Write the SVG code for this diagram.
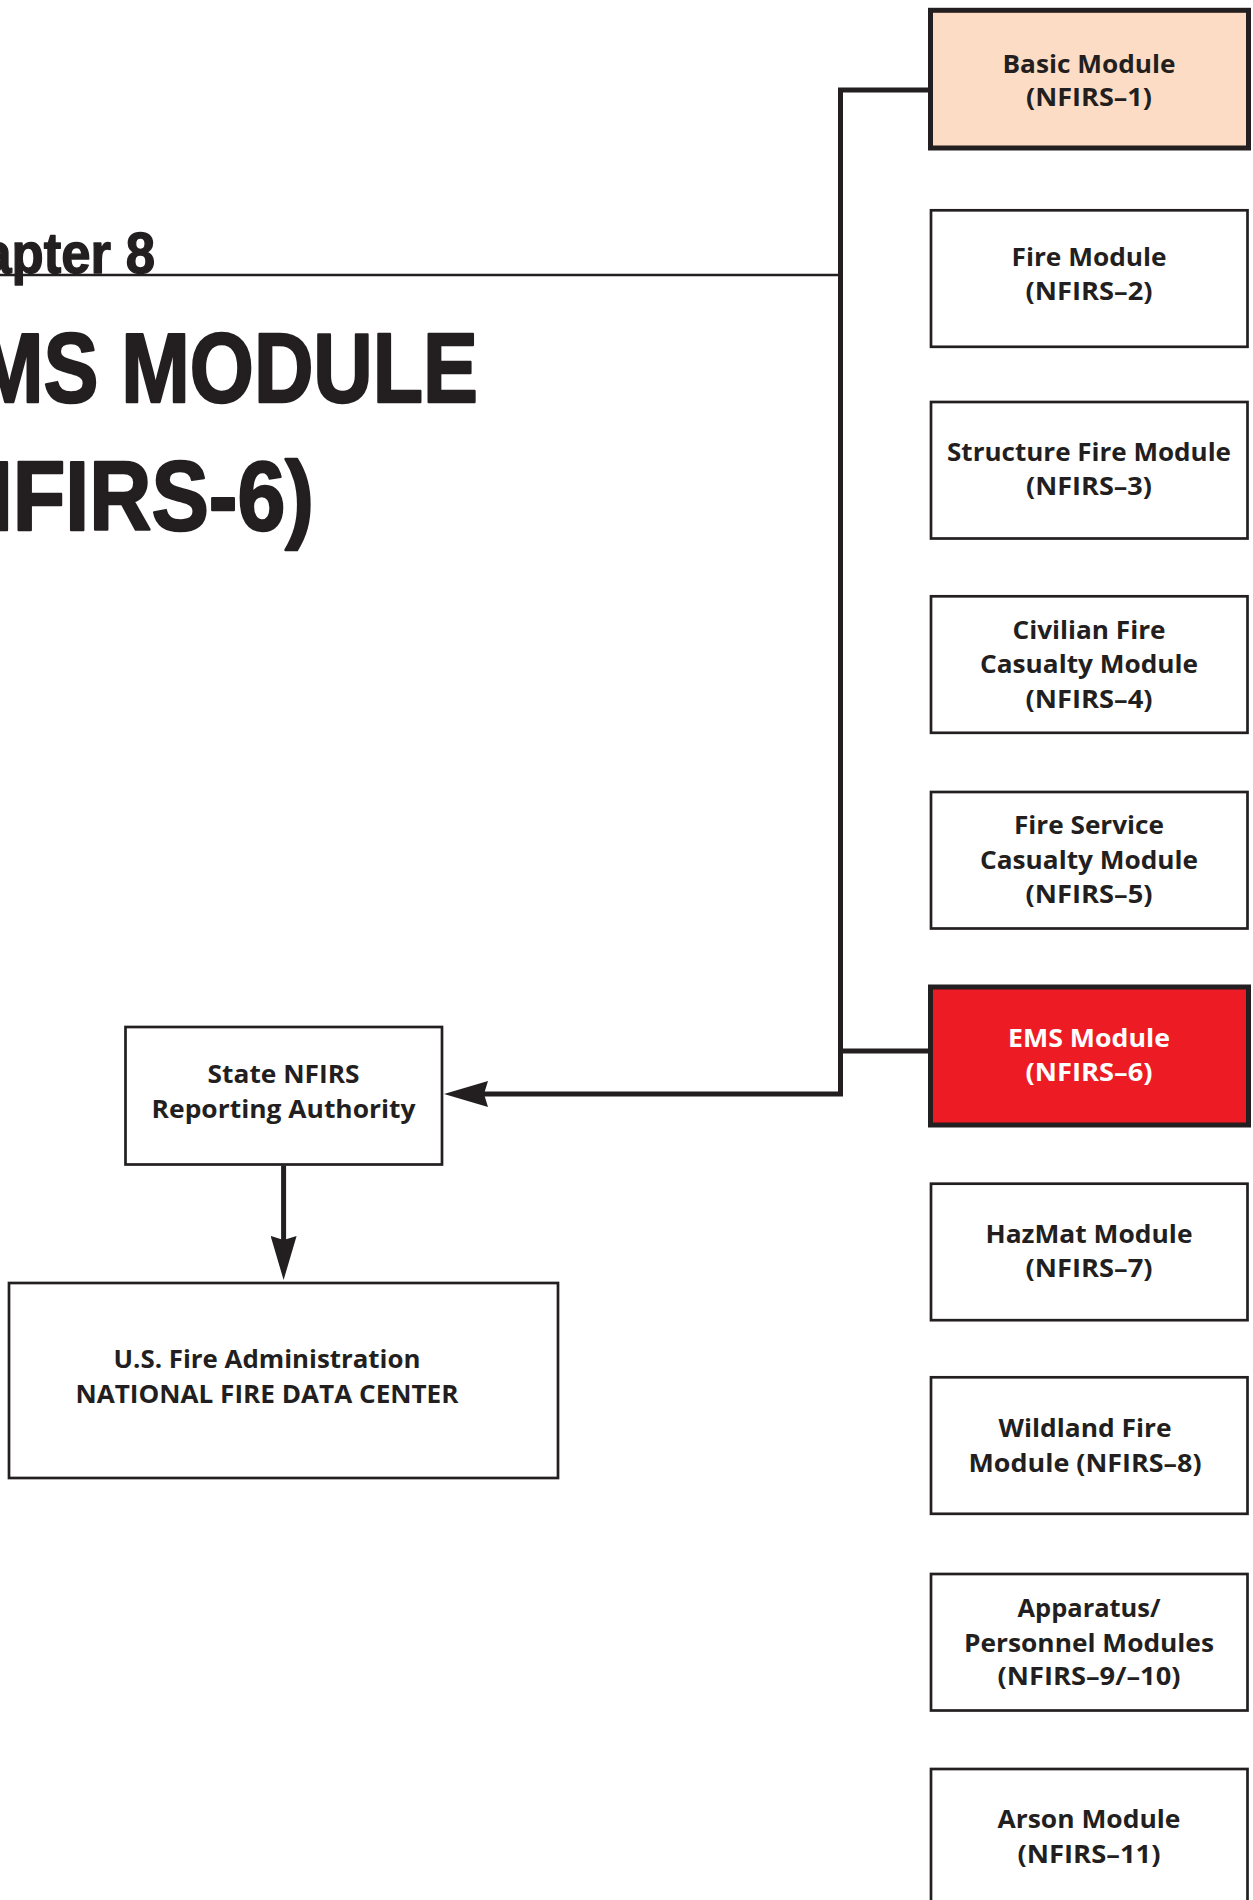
<svg xmlns="http://www.w3.org/2000/svg" width="1253" height="1900" viewBox="0 0 1253 1900">
<style>
.bg{fill:#ffffff}
.box{fill:#ffffff;stroke:#231F20;stroke-width:2.7}
.thick{stroke:#231F20;stroke-width:5}
.basic{fill:#FCDCC4}
.ems{fill:#ED1C24}
.lbl{font-family:"Open Sans",Lato,sans-serif;font-weight:700;font-size:25.5px;fill:#231F20;text-anchor:middle}
.wht{fill:#ffffff}
.title{font-family:"Liberation Sans Narrow","Liberation Sans",Arial,sans-serif;font-weight:700;fill:#231F20;stroke:#231F20;stroke-linejoin:round}
.conn{fill:none;stroke:#231F20;stroke-width:5;stroke-linejoin:miter;stroke-linecap:butt}
.rule{fill:none;stroke:#231F20;stroke-width:2.6}
</style>
<defs>
<marker id="arr" viewBox="0 0 44 26" refX="18" refY="13" markerWidth="44" markerHeight="26" markerUnits="userSpaceOnUse" orient="auto">
<path d="M0,0 L44,13 L0,26 L4,13 Z" fill="#231F20"/>
</marker>
</defs>
<rect class="bg" x="0" y="0" width="1253" height="1900"/>

<g id="title">
<text class="title" x="-88" y="273" font-size="58" stroke-width="1.4" textLength="243" lengthAdjust="spacingAndGlyphs">Chapter 8</text>
<text class="title" x="-80" y="402" font-size="98" stroke-width="2.4" textLength="558" lengthAdjust="spacingAndGlyphs">EMS MODULE</text>
<text class="title" x="-78" y="530" font-size="99" stroke-width="2.4" textLength="392" lengthAdjust="spacingAndGlyphs">(NFIRS-6)</text>
</g>

<g id="connectors">
<path class="rule" d="M0,275 H840.5"/>
<path class="conn" d="M930,90 H840.5 V1094 H470" marker-end="url(#arr)"/>
<path class="conn" d="M840.5,1051 H930"/>
<path class="conn" d="M283.6,1165.5 V1254" marker-end="url(#arr)"/>
</g>

<g id="basic-module">
<rect class="basic thick" x="930.5" y="10.3" width="318" height="137.7"/>
<text class="lbl" x="1089" y="72.7" textLength="173" lengthAdjust="spacingAndGlyphs">Basic Module</text>
<text class="lbl" x="1089" y="106" textLength="126" lengthAdjust="spacingAndGlyphs">(NFIRS–1)</text>
</g>

<g id="fire-module">
<rect class="box" x="931" y="210.3" width="316.5" height="136.5"/>
<text class="lbl" x="1089" y="266" textLength="155" lengthAdjust="spacingAndGlyphs">Fire Module</text>
<text class="lbl" x="1089" y="300" textLength="127" lengthAdjust="spacingAndGlyphs">(NFIRS–2)</text>
</g>

<g id="structure-fire-module">
<rect class="box" x="931" y="402" width="316.5" height="136.5"/>
<text class="lbl" x="1089" y="460.7" textLength="284" lengthAdjust="spacingAndGlyphs">Structure Fire Module</text>
<text class="lbl" x="1089" y="495" textLength="126" lengthAdjust="spacingAndGlyphs">(NFIRS–3)</text>
</g>

<g id="civilian-fire-casualty-module">
<rect class="box" x="931" y="596.3" width="316.5" height="136.5"/>
<text class="lbl" x="1089" y="639.3" textLength="153" lengthAdjust="spacingAndGlyphs">Civilian Fire</text>
<text class="lbl" x="1089" y="673.3" textLength="218" lengthAdjust="spacingAndGlyphs">Casualty Module</text>
<text class="lbl" x="1089" y="708.3" textLength="127" lengthAdjust="spacingAndGlyphs">(NFIRS–4)</text>
</g>

<g id="fire-service-casualty-module">
<rect class="box" x="931" y="792" width="316.5" height="136.5"/>
<text class="lbl" x="1089" y="834.3" textLength="150" lengthAdjust="spacingAndGlyphs">Fire Service</text>
<text class="lbl" x="1089" y="869" textLength="218" lengthAdjust="spacingAndGlyphs">Casualty Module</text>
<text class="lbl" x="1089" y="903.3" textLength="127" lengthAdjust="spacingAndGlyphs">(NFIRS–5)</text>
</g>

<g id="ems-module">
<rect class="ems thick" x="930.5" y="987" width="318" height="138"/>
<text class="lbl wht" x="1089" y="1047.3" textLength="162" lengthAdjust="spacingAndGlyphs">EMS Module</text>
<text class="lbl wht" x="1089" y="1080.7" textLength="127" lengthAdjust="spacingAndGlyphs">(NFIRS–6)</text>
</g>

<g id="hazmat-module">
<rect class="box" x="931" y="1183.7" width="316.5" height="136.5"/>
<text class="lbl" x="1089" y="1242.7" textLength="207" lengthAdjust="spacingAndGlyphs">HazMat Module</text>
<text class="lbl" x="1089" y="1276.7" textLength="127" lengthAdjust="spacingAndGlyphs">(NFIRS–7)</text>
</g>

<g id="wildland-fire-module">
<rect class="box" x="931" y="1377.3" width="316.5" height="136.5"/>
<text class="lbl" x="1085" y="1437.3" textLength="173" lengthAdjust="spacingAndGlyphs">Wildland Fire</text>
<text class="lbl" x="1085" y="1471.7" textLength="233" lengthAdjust="spacingAndGlyphs">Module (NFIRS–8)</text>
</g>

<g id="apparatus-personnel-modules">
<rect class="box" x="931" y="1574" width="316.5" height="136.5"/>
<text class="lbl" x="1089" y="1616.7" textLength="143" lengthAdjust="spacingAndGlyphs">Apparatus/</text>
<text class="lbl" x="1089" y="1651.7" textLength="250" lengthAdjust="spacingAndGlyphs">Personnel Modules</text>
<text class="lbl" x="1089" y="1685" textLength="183" lengthAdjust="spacingAndGlyphs">(NFIRS–9/–10)</text>
</g>

<g id="arson-module">
<rect class="box" x="931" y="1769" width="316.5" height="136.5"/>
<text class="lbl" x="1089" y="1828.3" textLength="183" lengthAdjust="spacingAndGlyphs">Arson Module</text>
<text class="lbl" x="1089" y="1862.7" textLength="143" lengthAdjust="spacingAndGlyphs">(NFIRS–11)</text>
</g>

<g id="state-nfirs-reporting-authority">
<rect class="box" x="125.5" y="1027" width="316.5" height="137.5"/>
<text class="lbl" x="283.6" y="1083.3" textLength="152" lengthAdjust="spacingAndGlyphs">State NFIRS</text>
<text class="lbl" x="283.6" y="1118.3" textLength="264" lengthAdjust="spacingAndGlyphs">Reporting Authority</text>
</g>

<g id="usfa-national-fire-data-center">
<rect class="box" x="9" y="1283" width="549" height="195"/>
<text class="lbl" x="267" y="1368.3" textLength="307" lengthAdjust="spacingAndGlyphs">U.S. Fire Administration</text>
<text class="lbl" x="267" y="1403.3" textLength="383" lengthAdjust="spacingAndGlyphs">NATIONAL FIRE DATA CENTER</text>
</g>
</svg>
